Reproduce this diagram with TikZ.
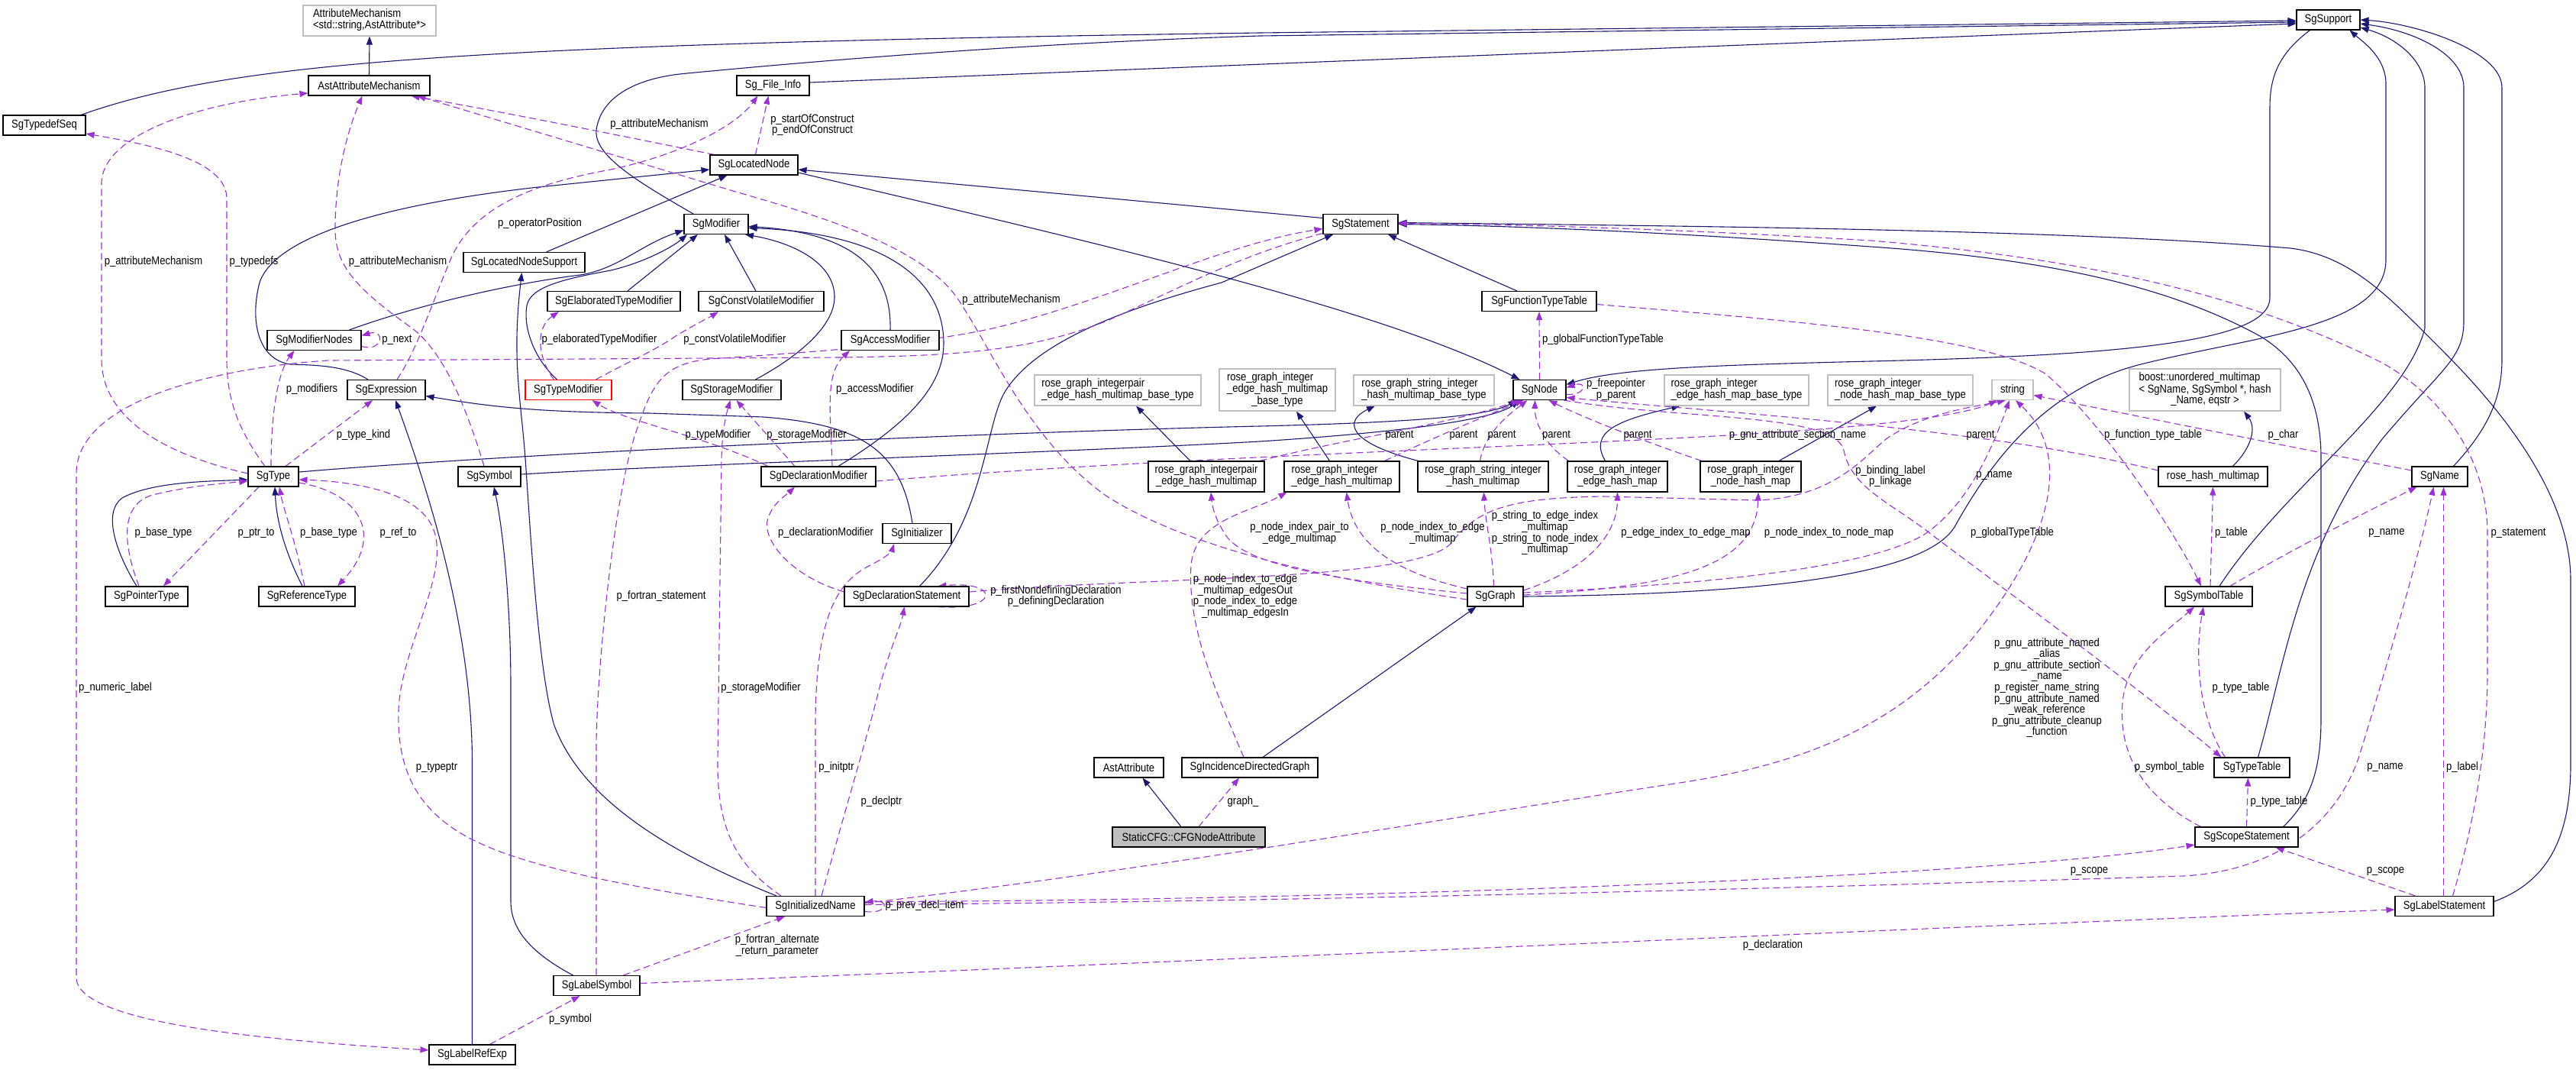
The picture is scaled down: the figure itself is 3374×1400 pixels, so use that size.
\documentclass[tikz,border=0pt]{standalone}
\usepackage{fontspec}
\setmainfont{Liberation Sans}[FakeStretch=0.87]
\usetikzlibrary{arrows.meta}
\definecolor{inhcol}{HTML}{191970}
\definecolor{usecol}{HTML}{9A32CD}
\definecolor{extcol}{HTML}{BFBFBF}
\newcommand\mytwo[2]{\begin{tabular}{@{}l@{}}#1\\\multicolumn{1}{@{}c@{}}{#2}\end{tabular}}
\newcommand\mythree[3]{\begin{tabular}{@{}l@{}}#1\\#2\\\multicolumn{1}{@{}c@{}}{#3}\end{tabular}}
\pgfdeclarelayer{bgfill}
\pgfdeclarelayer{edges}
\pgfsetlayers{bgfill,edges,main}
\tikzset{
 clsbox/.style={draw=black, line width=1.1pt, fill=white, inner sep=0pt, minimum height=26pt, align=center},
 extbox/.style={draw=extcol, line width=1.1pt, fill=white, inner sep=0pt, minimum height=26pt, align=center},
 inhline/.style={draw=inhcol, line width=1.1pt, -{Triangle[length=11pt,width=8pt]}},
 useline/.style={draw=usecol, line width=1.1pt, dash pattern=on 9pt off 5pt, -{Triangle[length=11pt,width=8pt]}},
 lbl/.style={inner sep=0pt, align=center},
}
\begin{document}
\begin{tikzpicture}[x=1pt,y=-1pt, every node/.style={font=\fontsize{15}{14.6}\selectfont}]
\begin{pgfonlayer}{bgfill}
\fill[white] (0,0) rectangle (3374,1400);
\end{pgfonlayer}
\useasboundingbox (0,0) rectangle (3374,1400);
% ---------------- nodes ----------------
\node[extbox, minimum width=174pt, minimum height=40pt] (AttrMech) at (484,27) {\mytwo{AttributeMechanism}{<std::string,AstAttribute*>}};
\node[clsbox, minimum width=159pt] (AstAttributeMechanism) at (483.5,112) {AstAttributeMechanism};
\node[clsbox, minimum width=108pt] (SgTypedefSeq) at (58,164) {SgTypedefSeq};
\node[clsbox, minimum width=95pt] (SgFileInfo) at (1012.5,112) {Sg\_File\_Info};
\node[clsbox, minimum width=115pt] (SgLocatedNode) at (987.5,216) {SgLocatedNode};
\node[clsbox, minimum width=84pt] (SgModifier) at (938,293.5) {SgModifier};
\node[clsbox, minimum width=159pt] (SgLocatedNodeSupport) at (686.5,343.5) {SgLocatedNodeSupport};
\node[clsbox, minimum width=174pt] (SgElaboratedTypeModifier) at (804,394.5) {SgElaboratedTypeModifier};
\node[clsbox, minimum width=164pt] (SgConstVolatileModifier) at (997,394.5) {SgConstVolatileModifier};
\node[clsbox, minimum width=123pt] (SgModifierNodes) at (411.5,445.5) {SgModifierNodes};
\node[clsbox, minimum width=128pt] (SgAccessModifier) at (1166,445.5) {SgAccessModifier};
\node[clsbox, minimum width=98pt] (SgStatement) at (1782,293.5) {SgStatement};
\node[clsbox, minimum width=150pt] (SgFunctionTypeTable) at (2016,394.5) {SgFunctionTypeTable};
\node[clsbox, minimum width=83pt] (SgSupport) at (3049.5,26) {SgSupport};
\node[clsbox, minimum width=102pt] (SgExpression) at (506,510.5) {SgExpression};
\node[clsbox, draw=red, minimum width=113pt] (SgTypeModifier) at (744.5,510.5) {SgTypeModifier};
\node[clsbox, minimum width=129pt] (SgStorageModifier) at (958.5,510.5) {SgStorageModifier};
\node[clsbox, minimum width=69pt] (SgNode) at (2016.5,510.5) {SgNode};
\node[extbox, minimum width=218pt, minimum height=40pt] (rgipB) at (1464,511) {\mytwo{rose\_graph\_integerpair}{\_edge\_hash\_multimap\_base\_type}};
\node[extbox, minimum width=152pt, minimum height=55pt] (rgiehmB) at (1673,510.5) {\mythree{rose\_graph\_integer}{\_edge\_hash\_multimap}{\_base\_type}};
\node[extbox, minimum width=184pt, minimum height=40pt] (rgsiB) at (1865,511) {\mytwo{rose\_graph\_string\_integer}{\_hash\_multimap\_base\_type}};
\node[extbox, minimum width=189pt, minimum height=40pt] (rgiehmapB) at (2274.5,511) {\mytwo{rose\_graph\_integer}{\_edge\_hash\_map\_base\_type}};
\node[extbox, minimum width=190pt, minimum height=40pt] (rginhmapB) at (2489,511) {\mytwo{rose\_graph\_integer}{\_node\_hash\_map\_base\_type}};
\node[extbox, minimum width=54pt] (string) at (2636,510.5) {string};
\node[extbox, minimum width=198pt, minimum height=55pt] (boost) at (2888,510.5) {\mythree{boost::unordered\_multimap}{< SgName, SgSymbol *, hash}{\_Name, eqstr >}};
\node[clsbox, minimum width=66pt] (SgType) at (358,624) {SgType};
\node[clsbox, minimum width=82pt] (SgSymbol) at (641,624) {SgSymbol};
\node[clsbox, minimum width=150pt] (SgDeclarationModifier) at (1072,624) {SgDeclarationModifier};
\node[clsbox, minimum width=152pt, minimum height=40pt] (rgip) at (1580,624) {\mytwo{rose\_graph\_integerpair}{\_edge\_hash\_multimap}};
\node[clsbox, minimum width=151pt, minimum height=40pt] (rgiehm) at (1757.5,624) {\mytwo{rose\_graph\_integer}{\_edge\_hash\_multimap}};
\node[clsbox, minimum width=171pt, minimum height=40pt] (rgsi) at (1942.5,624) {\mytwo{rose\_graph\_string\_integer}{\_hash\_multimap}};
\node[clsbox, minimum width=131pt, minimum height=40pt] (rgiehmap) at (2118.5,624) {\mytwo{rose\_graph\_integer}{\_edge\_hash\_map}};
\node[clsbox, minimum width=132pt, minimum height=40pt] (rginhmap) at (2293,624) {\mytwo{rose\_graph\_integer}{\_node\_hash\_map}};
\node[clsbox, minimum width=143pt] (rosehash) at (2898.5,624) {rose\_hash\_multimap};
\node[clsbox, minimum width=73pt] (SgName) at (3195.5,624) {SgName};
\node[clsbox, minimum width=90pt] (SgInitializer) at (1201,698.5) {SgInitializer};
\node[clsbox, minimum width=108pt] (SgPointerType) at (192,781) {SgPointerType};
\node[clsbox, minimum width=126pt] (SgReferenceType) at (402,781) {SgReferenceType};
\node[clsbox, minimum width=163pt] (SgDeclarationStatement) at (1187.5,781) {SgDeclarationStatement};
\node[clsbox, minimum width=73pt] (SgGraph) at (1958.5,781) {SgGraph};
\node[clsbox, minimum width=114pt] (SgSymbolTable) at (2893,781) {SgSymbolTable};
\node[clsbox, minimum width=91pt] (AstAttribute) at (1478.5,1005) {AstAttribute};
\node[clsbox, minimum width=178pt] (SgIncidenceDirectedGraph) at (1637,1005) {SgIncidenceDirectedGraph};
\node[clsbox, minimum width=99pt] (SgTypeTable) at (2949.5,1005) {SgTypeTable};
\node[clsbox, fill=extcol, minimum width=200pt] (CFGNodeAttr) at (1557,1096) {StaticCFG::CFGNodeAttribute};
\node[clsbox, minimum width=135pt] (SgScopeStatement) at (2942.5,1096) {SgScopeStatement};
\node[clsbox, minimum width=128pt] (SgInitializedName) at (1068,1186.5) {SgInitializedName};
\node[clsbox, minimum width=129pt] (SgLabelStatement) at (3201.5,1186.5) {SgLabelStatement};
\node[clsbox, minimum width=113pt] (SgLabelSymbol) at (781.5,1290.5) {SgLabelSymbol};
\node[clsbox, minimum width=113pt] (SgLabelRefExp) at (618.5,1381) {SgLabelRefExp};
% ---------------- edges ----------------
\begin{pgfonlayer}{edges}
% inheritance
\draw[inhline] (AstAttributeMechanism.north) -- (AttrMech.south);
\draw[inhline] ([xshift=48pt]SgTypedefSeq.north) .. controls (300,82) and (600,58) .. (1650,43) -- ([yshift=-1pt]SgSupport.west);
\draw[inhline] ([xshift=-30pt]SgModifier.north) .. controls (830,235) and (772,200) .. (782,165) .. controls (790,128) and (830,102) .. (900,96) .. controls (1150,72) and (1400,55) .. (1650,47) -- ([yshift=-3pt]SgSupport.west);
\draw[inhline] ([yshift=4pt]SgFileInfo.east) .. controls (1700,82) and (2500,50) .. ([yshift=-5pt]SgSupport.west);
\draw[inhline] ([xshift=-24pt]SgSupport.south) .. controls (2985,70) and (2973,100) .. (2973,140) -- (2973,390) .. controls (2973,445) and (2800,465) .. (2450,473) .. controls (2250,478) and (2120,482) .. ([yshift=7pt]SgNode.east);
\draw[inhline] ([xshift=8pt]SgTypeTable.north) .. controls (2990,880) and (3010,720) .. (3120,575) .. controls (3200,480) and (3227,470) .. (3227,420) -- (3227,115) .. controls (3227,70) and (3160,40) .. ([yshift=-5pt]SgSupport.east);
\draw[inhline] ([xshift=14pt]SgSymbolTable.north) .. controls (2990,640) and (3150,530) .. (3176,430) -- (3176,115) .. controls (3176,80) and (3140,50) .. ([yshift=-10pt]SgSupport.east);
\draw[inhline] ([xshift=18pt]SgName.north) .. controls (3260,560) and (3277,520) .. (3277,470) -- (3277,115) .. controls (3277,65) and (3160,30) .. (SgSupport.east);
\draw[inhline] (SgGraph.east) .. controls (2300,778) and (2520,755) .. (2560,690) .. controls (2610,600) and (2680,510) .. (2800,478) .. controls (2950,440) and (3125,430) .. (3125,340) -- (3125,110) .. controls (3125,75) and (3095,55) .. ([xshift=28pt]SgSupport.south);
\draw[inhline] ([xshift=-29pt]SgFunctionTypeTable.north) -- ([xshift=36pt]SgStatement.south);
\draw[inhline] ([xshift=17pt]SgDeclarationStatement.north) .. controls (1290,680) and (1290,560) .. (1315,515) .. controls (1350,455) and (1450,410) .. (1600,370) -- ([xshift=-36pt]SgStatement.south);
\draw[inhline] ([xshift=48pt]SgScopeStatement.north) .. controls (3030,1045) and (3040,1000) .. (3040,940) -- (3040,600) .. controls (3040,520) and (3010,470) .. (2960,440) .. controls (2850,380) and (2700,340) .. (2450,323) .. controls (2200,305) and (2000,296) .. (SgStatement.east);
\draw[inhline] ([yshift=6pt]SgLabelStatement.east) .. controls (3335,1155) and (3367,1100) .. (3367,1000) -- (3367,760) .. controls (3367,650) and (3280,540) .. (3200,460) .. controls (3130,390) and (3080,335) .. (3000,325) .. controls (2700,300) and (2200,296) .. ([yshift=2pt]SgStatement.east);
\draw[inhline] ([yshift=8pt]SgStatement.west) -- ([yshift=-6pt]SgLocatedNode.east);
\draw[inhline] ([yshift=-10pt]SgLocatedNode.east) .. controls (1400,310) and (1800,400) .. ([xshift=-26pt]SgNode.north);
\draw[inhline] ([xshift=29pt]SgLocatedNodeSupport.north) -- ([xshift=-35pt]SgLocatedNode.south);
\draw[inhline] ([xshift=-24pt]SgExpression.north) .. controls (455,480) and (420,478) .. (380,477) .. controls (335,470) and (328,415) .. (340,370) .. controls (360,310) and (500,268) .. (705,245) -- ([yshift=-6pt]SgLocatedNode.west);
\draw[inhline] ([xshift=46pt]SgModifierNodes.north) .. controls (560,395) and (680,370) .. (760,360) .. controls (810,352) and (840,320) .. ([yshift=-8pt]SgModifier.west);
\draw[inhline] ([xshift=-15pt]SgTypeModifier.north) .. controls (700,470) and (685,430) .. (690,400) .. controls (695,375) and (740,365) .. (800,354) .. controls (850,342) and (885,320) .. ([xshift=-38pt]SgModifier.south);
\draw[inhline] ([xshift=18pt]SgElaboratedTypeModifier.north) -- ([xshift=-24pt]SgModifier.south);
\draw[inhline] ([xshift=-7pt]SgConstVolatileModifier.north) -- ([xshift=11pt]SgModifier.south);
\draw[inhline] ([xshift=31pt]SgStorageModifier.north) .. controls (1040,470) and (1092,430) .. (1093,390) .. controls (1094,345) and (1040,318) .. ([xshift=38pt]SgModifier.south);
\draw[inhline] (SgAccessModifier.north) .. controls (1168,355) and (1120,305) .. ([yshift=-3pt]SgModifier.east);
\draw[inhline] ([xshift=26pt]SgDeclarationModifier.north) .. controls (1180,560) and (1236,510) .. (1236,450) .. controls (1236,360) and (1150,305) .. ([yshift=-5pt]SgModifier.east);
\draw[inhline] ([xshift=-6pt]SgInitializer.north) .. controls (1180,590) and (1130,556) .. (1000,546) -- (850,541) .. controls (700,540) and (640,532) .. ([yshift=-8pt]SgExpression.east);
\draw[inhline] (SgLabelRefExp.north) -- (618.5,1000) .. controls (618.5,820) and (560,640) .. ([xshift=12pt]SgExpression.south);
\draw[inhline] ([yshift=6pt]SgType.east) .. controls (700,592) and (1300,566) .. (1650,558) .. controls (1850,553) and (1950,545) .. ([xshift=-30pt]SgNode.south);
\draw[inhline] ([yshift=3pt]SgSymbol.east) .. controls (900,608) and (1400,592) .. (1650,578) .. controls (1850,565) and (1960,548) .. ([xshift=-27pt]SgNode.south);
\draw[inhline] ([xshift=-13pt]SgPointerType.north) .. controls (150,720) and (135,670) .. (160,652) .. controls (200,630) and (280,630) .. ([yshift=-4pt]SgType.west);
\draw[inhline] ([xshift=-6pt]SgReferenceType.north) .. controls (372,720) and (362,680) .. ([xshift=2pt]SgType.south);
\draw[inhline] ([xshift=-31pt]SgLabelSymbol.north) .. controls (700,1250) and (669,1220) .. (669,1180) -- (669,900) .. controls (669,800) and (660,700) .. ([xshift=6pt]SgSymbol.south);
\draw[inhline] ([xshift=-51pt]SgInitializedName.north) .. controls (860,1110) and (760,1040) .. (726,950) .. controls (705,880) and (695,700) .. (688,600) .. controls (682,520) and (670,470) .. ([xshift=-3pt]SgLocatedNodeSupport.south);
\draw[inhline] ([xshift=-21pt]rgip.north) -- ([xshift=24pt]rgipB.south);
\draw[inhline] ([xshift=-16pt]rgiehm.north) -- ([xshift=25pt]rgiehmB.south);
\draw[inhline] ([xshift=-85pt]rgsi.north) .. controls (1760,578) and (1762,550) .. ([xshift=-64pt]rgsiB.south);
\draw[inhline] ([xshift=-16pt]rgiehmap.north) .. controls (2080,565) and (2120,550) .. ([xshift=-74pt]rgiehmapB.south);
\draw[inhline] ([xshift=37pt]rginhmap.north) -- ([xshift=-31pt]rginhmapB.south);
\draw[inhline] ([xshift=26pt]rosehash.north) .. controls (2950,585) and (2955,560) .. ([xshift=51pt]boost.south);
\draw[inhline] ([xshift=-10pt]CFGNodeAttr.north) -- ([xshift=18pt]AstAttribute.south);
\draw[inhline] ([xshift=17pt]SgIncidenceDirectedGraph.north) -- ([xshift=-25pt]SgGraph.south);
% usage
\draw[useline] ([yshift=4pt]SgType.west) .. controls (220,596) and (133,550) .. (133,470) -- (133,240) .. controls (133,180) and (250,135) .. ([yshift=-10pt]AstAttributeMechanism.west);
\draw[useline] ([xshift=-11pt]SgType.north) .. controls (310,560) and (297,520) .. (297,470) -- (297,260) .. controls (297,210) and (200,190) .. ([yshift=-11pt]SgTypedefSeq.east);
\draw[useline] ([xshift=-7pt]SgSymbol.north) .. controls (610,530) and (580,460) .. (540,430) .. controls (470,380) and (439,350) .. (439,300) .. controls (439,220) and (460,160) .. ([xshift=-9pt]AstAttributeMechanism.south);
\draw[useline] ([xshift=-52pt]SgLocatedNode.north) .. controls (800,175) and (650,145) .. ([xshift=55pt]AstAttributeMechanism.south);
\draw[useline] ([yshift=-4pt]SgGraph.west) .. controls (1750,760) and (1560,720) .. (1450,650) .. controls (1350,580) and (1300,460) .. (1260,400) .. controls (1220,330) and (1100,290) .. (960,250) -- ([xshift=63pt]AstAttributeMechanism.south);
\draw[useline] ([xshift=14pt]SgExpression.north) .. controls (545,460) and (565,400) .. (590,340) .. controls (620,270) and (700,240) .. (800,222) .. controls (880,205) and (960,170) .. ([xshift=-20pt]SgFileInfo.south);
\draw[useline] ([xshift=2pt]SgLocatedNode.north) -- ([xshift=-6pt]SgFileInfo.south);
\draw[useline] ([xshift=-3pt]SgType.north) .. controls (355,550) and (362,490) .. ([xshift=-26pt]SgModifierNodes.south);
\draw[useline] ([yshift=-8pt]SgModifierNodes.east) .. controls (502,462) and (505,430) .. ([yshift=6pt]SgModifierNodes.east);
\draw[useline] ([xshift=16pt]SgType.north) -- ([xshift=-18pt]SgExpression.south);
\draw[useline] ([xshift=-10pt]SgPointerType.north) .. controls (160,710) and (158,660) .. (200,648) .. controls (250,636) and (290,633) .. ([yshift=-6pt]SgType.west);
\draw[useline] ([xshift=-19pt]SgType.south) -- ([xshift=22pt]SgPointerType.north);
\draw[useline] ([xshift=-3pt]SgReferenceType.north) .. controls (385,700) and (372,670) .. ([xshift=8pt]SgType.south);
\draw[useline] ([yshift=-8pt]SgType.east) .. controls (470,645) and (505,700) .. ([xshift=40pt]SgReferenceType.north);
\draw[useline] ([yshift=-2pt]SgInitializedName.west) .. controls (850,1165) and (700,1140) .. (620,1100) .. controls (540,1060) and (520,1000) .. (522,930) .. controls (525,850) and (585,760) .. (570,700) .. controls (555,640) and (450,630) .. ([yshift=-4pt]SgType.east);
\draw[useline] ([yshift=-12pt]SgStatement.west) .. controls (1620,335) and (1540,380) .. (1450,420) .. controls (1350,460) and (1250,466) .. (1100,468) -- (430,472) .. controls (300,480) and (100,520) .. (100,620) -- (100,1280) .. controls (100,1340) and (350,1362) .. ([yshift=6pt]SgLabelRefExp.west);
\draw[useline] ([xshift=-0.5pt]SgLabelSymbol.north) -- (781,980) .. controls (781,880) and (805,640) .. (835,560) .. controls (855,500) and (870,476) .. (930,470) .. controls (1050,462) and (1200,452) .. (1300,430) .. controls (1450,395) and (1600,320) .. ([yshift=-6pt]SgStatement.west);
\draw[useline] ([xshift=-19pt]SgTypeModifier.north) .. controls (705,470) and (700,430) .. ([xshift=-72pt]SgElaboratedTypeModifier.south);
\draw[useline] ([xshift=36pt]SgTypeModifier.north) .. controls (820,475) and (860,458) .. (885,440) .. controls (910,425) and (930,415) .. ([xshift=-56pt]SgConstVolatileModifier.south);
\draw[useline] ([xshift=-66pt]SgDeclarationModifier.north) .. controls (920,570) and (820,552) .. ([xshift=31pt]SgTypeModifier.south);
\draw[useline] ([xshift=-31pt]SgDeclarationModifier.north) -- ([xshift=6pt]SgStorageModifier.south);
\draw[useline] ([xshift=-45pt]SgInitializedName.north) .. controls (960,1130) and (940,1080) .. (940,1000) -- (945,600) .. controls (946,560) and (952,540) .. ([xshift=-2pt]SgStorageModifier.south);
\draw[useline] ([xshift=18pt]SgDeclarationModifier.north) .. controls (1088,540) and (1080,490) .. ([xshift=-53pt]SgAccessModifier.south);
\draw[useline] ([yshift=6pt]SgDeclarationStatement.west) .. controls (1030,752) and (1000,705) .. (1005,682) .. controls (1010,660) and (1030,648) .. ([xshift=-31pt]SgDeclarationModifier.south);
\draw[useline] ([xshift=41pt]SgDeclarationStatement.south) .. controls (1310,800) and (1310,760) .. ([xshift=41pt]SgDeclarationStatement.north);
\draw[useline] (SgInitializedName.north) -- (1068,950) .. controls (1068,800) and (1100,760) .. (1140,740) .. controls (1160,730) and (1168,722) .. ([xshift=-30pt]SgInitializer.south);
\draw[useline] ([xshift=8pt]SgInitializedName.north) .. controls (1110,1050) and (1140,950) .. (1152,900) .. controls (1165,850) and (1180,820) .. ([xshift=-3pt]SgDeclarationStatement.south);
\draw[useline] ([yshift=-7pt]SgInitializedName.east) .. controls (1165,1197) and (1165,1177) .. ([yshift=5pt]SgInitializedName.east);
\draw[useline] ([xshift=35pt]SgLabelSymbol.north) -- ([xshift=-40pt]SgInitializedName.south);
\draw[useline] ([xshift=23pt]SgLabelRefExp.north) -- ([xshift=-22pt]SgLabelSymbol.south);
\draw[useline] ([yshift=3pt]SgLabelSymbol.east) .. controls (1600,1258) and (2500,1215) .. ([yshift=-4.5pt]SgLabelStatement.west);
\draw[useline] ([yshift=6pt]SgInitializedName.east) .. controls (1700,1180) and (2600,1150) .. ([yshift=-10pt]SgScopeStatement.west);
\draw[useline] ([yshift=2pt]SgInitializedName.east) .. controls (1800,1180) and (2600,1155) .. (2860,1147) .. controls (2980,1140) and (3060,1080) .. (3090,990) .. controls (3130,860) and (3170,720) .. ([xshift=-8pt]SgName.south);
\draw[useline] ([yshift=4pt]SgInitializedName.east) .. controls (1500,1140) and (1900,1070) .. (2200,1025) .. controls (2400,995) and (2500,930) .. (2580,840) .. controls (2680,720) and (2720,600) .. ([xshift=4pt]string.south);
\draw[useline] ([yshift=6pt]SgDeclarationStatement.east) .. controls (1500,755) and (1850,762) .. (1900,712) .. controls (1935,665) and (1980,652) .. (2100,650) -- (2300,655) .. controls (2400,652) and (2440,600) .. (2470,575) .. controls (2520,540) and (2590,532) .. ([xshift=-9pt]string.south);
\draw[useline] ([yshift=-6pt]SgDeclarationModifier.east) .. controls (1600,592) and (2200,582) .. (2450,556) .. controls (2550,546) and (2590,536) .. ([xshift=-20pt]string.south);
\draw[useline] ([yshift=5pt]SgGraph.east) .. controls (2250,765) and (2450,742) .. (2520,700) .. controls (2580,660) and (2612,580) .. ([xshift=-4pt]string.south);
\draw[useline] ([xshift=-1pt]SgLabelStatement.north) -- ([xshift=5pt]SgName.south);
\draw[useline] ([xshift=11pt]SgLabelStatement.north) .. controls (3240,1080) and (3258,980) .. (3258,880) -- (3258,700) .. controls (3258,600) and (3200,520) .. (3120,475) .. controls (2950,390) and (2750,340) .. (2450,315) .. controls (2200,300) and (2000,294) .. ([yshift=1pt]SgStatement.east);
\draw[useline] ([xshift=-38pt]SgLabelStatement.north) -- ([xshift=38pt]SgScopeStatement.south);
\draw[useline] ([xshift=-60pt]SgScopeStatement.north) .. controls (2800,1040) and (2775,980) .. (2780,920) .. controls (2785,860) and (2840,825) .. ([xshift=-19pt]SgSymbolTable.south);
\draw[useline] (SgScopeStatement.north) -- ([xshift=-5pt]SgTypeTable.south);
\draw[useline] ([xshift=-35pt]SgTypeTable.north) .. controls (2880,940) and (2874,860) .. ([xshift=-7pt]SgSymbolTable.south);
\draw[useline] ([xshift=32pt]SgNode.south) .. controls (2200,550) and (2405,540) .. (2415,590) .. controls (2425,640) and (2480,660) .. (2530,700) .. controls (2650,790) and (2800,900) .. ([xshift=-40pt]SgTypeTable.north);
\draw[useline] ([yshift=-4pt]SgFunctionTypeTable.east) .. controls (2350,420) and (2600,440) .. (2680,490) .. controls (2760,560) and (2850,700) .. ([xshift=-10pt]SgSymbolTable.north);
\draw[useline] (SgNode.north) -- (SgFunctionTypeTable.south);
\draw[useline] ([yshift=-6pt]SgNode.east) .. controls (2078,518) and (2080,498) .. ([yshift=3pt]SgNode.east);
\draw[useline] ([xshift=70pt]rgip.north) .. controls (1760,575) and (1900,555) .. ([xshift=-26pt]SgNode.south);
\draw[useline] ([xshift=56pt]rgiehm.north) .. controls (1880,572) and (1945,545) .. ([xshift=-21pt]SgNode.south);
\draw[useline] ([xshift=-4pt]rgsi.north) .. controls (1945,565) and (1980,540) .. ([xshift=-16pt]SgNode.south);
\draw[useline] ([xshift=-64pt]rgiehmap.north) .. controls (2020,580) and (2010,550) .. ([xshift=-6pt]SgNode.south);
\draw[useline] ([xshift=-64pt]rginhmap.north) .. controls (2130,570) and (2060,540) .. ([xshift=12pt]SgNode.south);
\draw[useline] ([yshift=8pt]rosehash.west) .. controls (2600,560) and (2250,540) .. ([yshift=-10pt]SgNode.east);
\draw[useline] ([yshift=8pt]SgName.west) .. controls (3000,585) and (2800,545) .. ([yshift=-7pt]string.east);
\draw[useline] ([xshift=2pt]SgSymbolTable.north) -- (rosehash.south);
\draw[useline] ([xshift=28pt]SgSymbolTable.north) .. controls (3000,720) and (3100,670) .. ([xshift=-30pt]SgName.south);
\draw[useline] ([yshift=4pt]SgGraph.west) .. controls (1750,760) and (1630,740) .. (1605,700) .. controls (1592,680) and (1588,665) .. ([xshift=6pt]rgip.south);
\draw[useline] ([xshift=-8pt]SgIncidenceDirectedGraph.north) .. controls (1590,900) and (1555,820) .. (1560,740) .. controls (1565,680) and (1640,670) .. ([xshift=-72pt]rgiehm.south);
\draw[useline] ([yshift=10pt]SgGraph.west) .. controls (1840,752) and (1775,720) .. ([xshift=6pt]rgiehm.south);
\draw[useline] ([xshift=-2pt]SgGraph.north) .. controls (1955,720) and (1945,680) .. ([xshift=1pt]rgsi.south);
\draw[useline] ([yshift=8pt]SgGraph.east) .. controls (2080,745) and (2118,700) .. (rgiehmap.south);
\draw[useline] ([yshift=2pt]SgGraph.east) .. controls (2200,768) and (2300,740) .. ([xshift=10pt]rginhmap.south);
\draw[useline] ([xshift=13pt]CFGNodeAttr.north) -- ([xshift=-14pt]SgIncidenceDirectedGraph.south);
\end{pgfonlayer}
% ---------------- labels ----------------
\node[lbl] (l1) at (201,343) {p\_attributeMechanism};
\node[lbl] (l2) at (332.5,343) {p\_typedefs};
\node[lbl] (l3) at (521,343) {p\_attributeMechanism};
\node[lbl] (l4) at (863.5,163) {p\_attributeMechanism};
\node[lbl] (l5) at (707,293) {p\_operatorPosition};
\node[lbl] (l6) at (1064,163.5) {p\_startOfConstruct\\p\_endOfConstruct};
\node[lbl] (l7) at (408.5,510) {p\_modifiers};
\node[lbl] (l8) at (520,445) {p\_next};
\node[lbl] (l9) at (476,570) {p\_type\_kind};
\node[lbl] (l10) at (214,698) {p\_base\_type};
\node[lbl] (l11) at (335.5,698) {p\_ptr\_to};
\node[lbl] (l12) at (430.5,698) {p\_base\_type};
\node[lbl] (l13) at (521.5,698) {p\_ref\_to};
\node[lbl] (l14) at (572,1005) {p\_typeptr};
\node[lbl] (l15) at (151,901) {p\_numeric\_label};
\node[lbl] (l16) at (785,445) {p\_elaboratedTypeModifier};
\node[lbl] (l17) at (962.5,445) {p\_constVolatileModifier};
\node[lbl] (l18) at (940.5,570) {p\_typeModifier};
\node[lbl] (l19) at (1056.5,570) {p\_storageModifier};
\node[lbl] (l20) at (996.5,901) {p\_storageModifier};
\node[lbl] (l21) at (1146,510) {p\_accessModifier};
\node[lbl] (l22) at (1081.5,698) {p\_declarationModifier};
\node[lbl] (l23) at (1383,780.5) {p\_firstNondefiningDeclaration\\p\_definingDeclaration};
\node[lbl] (l24) at (866,781) {p\_fortran\_statement};
\node[lbl] (l25) at (1095.5,1005) {p\_initptr};
\node[lbl] (l26) at (1154.5,1050) {p\_declptr};
\node[lbl] (l27) at (1211,1186) {p\_prev\_decl\_item};
\node[lbl] (l28) at (1018,1238) {p\_fortran\_alternate\\\_return\_parameter};
\node[lbl] (l29) at (747,1335) {p\_symbol};
\node[lbl] (l30) at (2322,1238) {p\_declaration};
\node[lbl] (l31) at (2736.5,1141) {p\_scope};
\node[lbl] (l32) at (3124.5,1141) {p\_scope};
\node[lbl] (l33) at (3124,1005) {p\_name};
\node[lbl] (l34) at (3225,1005) {p\_label};
\node[lbl] (l35) at (2841.5,1005) {p\_symbol\_table};
\node[lbl] (l36) at (2985,1050) {p\_type\_table};
\node[lbl] (l37) at (2935,901) {p\_type\_table};
\node[lbl] (l38) at (2922.5,698) {p\_table};
\node[lbl] (l39) at (3126,698) {p\_name};
\node[lbl] (l40) at (3298.5,698) {p\_statement};
\node[lbl] (l41) at (2990.5,570) {p\_char};
\node[lbl] (l42) at (2820,570) {p\_function\_type\_table};
\node[lbl] (l43) at (2594,570) {parent};
\node[lbl] (l44) at (2612,623) {p\_name};
\node[lbl] (l45) at (2476,623.5) {p\_binding\_label\\p\_linkage};
\node[lbl] (l46) at (2635.5,698) {p\_globalTypeTable};
\node[lbl] (l47) at (2681,900.5) {p\_gnu\_attribute\_named\\\_alias\\p\_gnu\_attribute\_section\\\_name\\p\_register\_name\_string\\p\_gnu\_attribute\_named\\\_weak\_reference\\p\_gnu\_attribute\_cleanup\\\_function};
\node[lbl] (l48) at (2354.5,570) {p\_gnu\_attribute\_section\_name};
\node[lbl] (l49a) at (1833,570) {parent};
\node[lbl] (l49b) at (1917,570) {parent};
\node[lbl] (l49c) at (1967,570) {parent};
\node[lbl] (l49d) at (2038.5,570) {parent};
\node[lbl] (l49e) at (2145,570) {parent};
\node[lbl] (l50) at (2116.5,510) {p\_freepointer\\p\_parent};
\node[lbl] (l51) at (2099.5,445) {p\_globalFunctionTypeTable};
\node[lbl] (l52) at (1702,698) {p\_node\_index\_pair\_to\\\_edge\_multimap};
\node[lbl] (l53) at (1876.5,698) {p\_node\_index\_to\_edge\\\_multimap};
\node[lbl] (l54) at (2023.5,698) {p\_string\_to\_edge\_index\\\_multimap\\p\_string\_to\_node\_index\\\_multimap};
\node[lbl] (l55) at (2208,698) {p\_edge\_index\_to\_edge\_map};
\node[lbl] (l56) at (2395.5,698) {p\_node\_index\_to\_node\_map};
\node[lbl] (l57) at (1631,780.5) {p\_node\_index\_to\_edge\\\_multimap\_edgesOut\\p\_node\_index\_to\_edge\\\_multimap\_edgesIn};
\node[lbl] (l58) at (1628,1050) {graph\_};
\node[lbl] (l59) at (1324.5,393) {p\_attributeMechanism};
\end{tikzpicture}
\end{document}
